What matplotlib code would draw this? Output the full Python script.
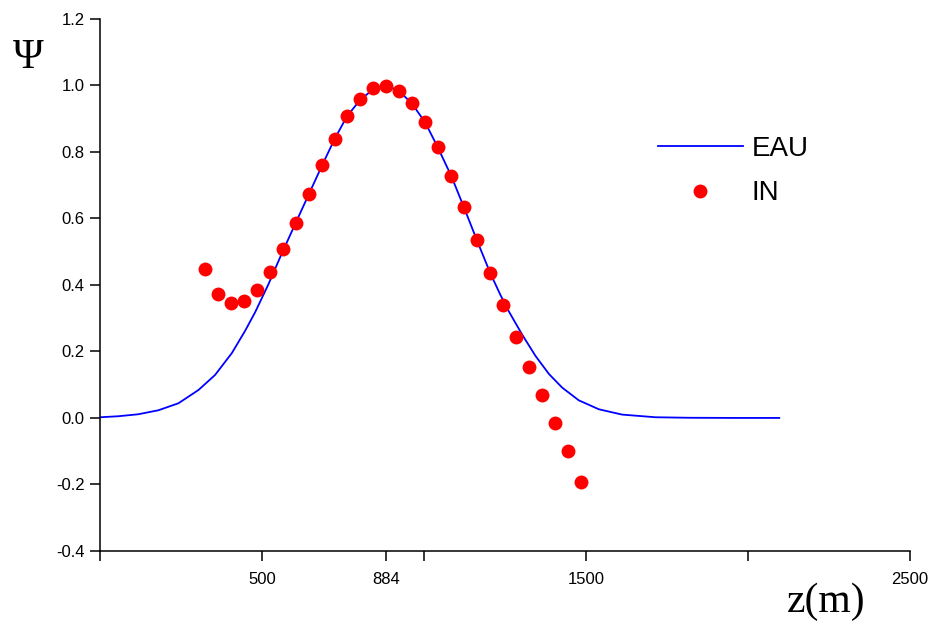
import matplotlib
matplotlib.use('Agg')
import matplotlib.pyplot as plt

# EAU curve
eau_z = [0, 56, 118, 180, 242, 304, 355, 407, 448, 479, 520, 561, 603, 644, 685, 724, 762,
         803, 845, 884, 924, 963, 1004, 1043, 1085, 1124, 1164, 1205, 1236, 1264, 1303,
         1344, 1386, 1427, 1478, 1540, 1612, 1715, 1818, 1950, 2097]
eau_psi = [0.002, 0.005, 0.011, 0.023, 0.044, 0.084, 0.129, 0.195, 0.262, 0.318, 0.402,
           0.494, 0.584, 0.671, 0.758, 0.838, 0.906, 0.956, 0.989, 1.000, 0.982, 0.945,
           0.888, 0.813, 0.726, 0.632, 0.533, 0.435, 0.370, 0.317, 0.251, 0.187, 0.132,
           0.091, 0.053, 0.026, 0.010, 0.002, 0.0005, 0.0, 0.0]

# IN points
in_z = [324, 364, 404, 444, 484, 524, 564, 604, 644, 684, 724, 764, 804, 844, 884,
        924, 964, 1004, 1044, 1084, 1124, 1164, 1204, 1244, 1284, 1324, 1364, 1404, 1444, 1484]
in_psi = [0.448, 0.373, 0.346, 0.352, 0.385, 0.439, 0.508, 0.586, 0.674, 0.761, 0.839, 0.908,
          0.959, 0.992, 0.998, 0.983, 0.947, 0.890, 0.815, 0.728, 0.635, 0.535, 0.436, 0.340,
          0.244, 0.153, 0.069, -0.015, -0.099, -0.192]

x_ticks = [0, 500, 884, 1000, 1500, 2000, 2500]
x_labels = ['', '500', '884', '', '1500', '', '2500']
y_ticks = [-0.4, -0.2, 0.0, 0.2, 0.4, 0.6, 0.8, 1.0, 1.2]


def plot_psi():
    plt.rcParams['font.family'] = ['Liberation Sans', 'DejaVu Sans']
    plt.rcParams['axes.unicode_minus'] = False

    fig = plt.figure(figsize=(9.35, 6.24), dpi=100)
    ax = fig.add_axes([0.107, 0.117, 0.866, 0.853])

    ax.plot(eau_z, eau_psi, color='#0000ff', lw=1.3, label='EAU')
    ax.plot(in_z, in_psi, 'o', color='#ff0000', ms=10, mec='none', label='IN')

    ax.set_xlim(0, 2500)
    ax.set_ylim(-0.4, 1.2)
    ax.set_xticks(x_ticks)
    ax.set_xticklabels(x_labels)
    ax.set_yticks(y_ticks)
    ax.set_yticklabels([f'{v:.1f}' for v in y_ticks])

    for side in ['top', 'right']:
        ax.spines[side].set_visible(False)
    for side in ['left', 'bottom']:
        ax.spines[side].set_linewidth(1.1)
    ax.tick_params(direction='out', length=7, width=1.1, labelsize=12, pad=4)
    ax.tick_params(axis='x', pad=8)

    fig.text(28 / 935, 1 - 58 / 624, 'Ψ', family='Liberation Serif', fontsize=30,
             ha='center', va='center')
    fig.text(826 / 935, 1 - 602 / 624, 'z(m)', family='Liberation Serif', fontsize=30,
             ha='center', va='center')

    ax.legend(loc='center left', bbox_to_anchor=(658 / 935, 1 - 171 / 624),
              bbox_transform=fig.transFigure, frameon=False, fontsize=20,
              handlelength=3.05, handletextpad=0.32, labelspacing=0.67,
              borderpad=0, borderaxespad=0, numpoints=1)

    fig.savefig('out.png', dpi=100)


if __name__ == "__main__":
    plot_psi()
